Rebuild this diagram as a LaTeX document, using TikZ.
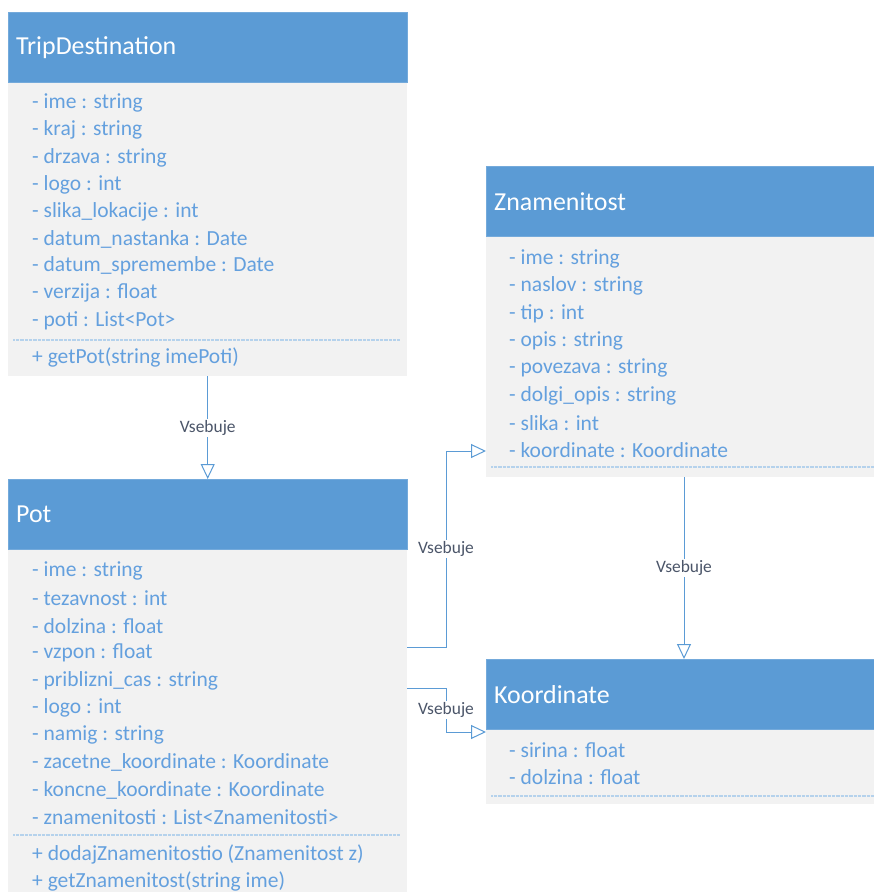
\documentclass[tikz,border=0pt]{standalone}
\usepackage{fontspec}
\setmainfont{Carlito}
\usetikzlibrary{arrows.meta}
\definecolor{umlblue}{RGB}{91,155,213}
\definecolor{umlgrey}{RGB}{242,242,242}
\definecolor{umltext}{RGB}{100,160,222}
\definecolor{umllbl}{RGB}{75,85,105}

\begin{document}
\begin{tikzpicture}[x=1bp,y=-1bp,
    head/.style={fill=umlblue,draw=umlblue!85!white,anchor=north west,inner xsep=8bp,inner ysep=0,
      minimum height=70bp,align=left,text=white,font=\fontsize{26}{26}\selectfont},
    body/.style={fill=umlgrey,anchor=north west,inner sep=0},
    attr/.style={anchor=west,inner sep=0,text=umltext,font=\fontsize{21.6}{21.6}\selectfont},
    sep/.style={draw=umlblue!45,line width=1.5bp,dash pattern=on 0.6bp off 0.7bp},
    vsebuje/.style={draw=umlblue,line width=1bp,-{Triangle[open,length=15bp,width=14bp,fill=white]}},
    lbl/.style={fill=white,inner sep=1.5bp,text=umllbl,font=\fontsize{17.5}{17.5}\selectfont}]
  \useasboundingbox (0,0) rectangle (874,892);

  % TripDestination
  \node[body,minimum width=399bp,minimum height=294bp] (tripbody) at (8,82) {};
  \node[head,text width=383bp] (trip) at (8,12) {TripDestination};
  \foreach \t [count=\i] in {- ime : string,- kraj : string,- drzava : string,- logo : int,
      - slika\_lokacije : int,- datum\_nastanka : Date,- datum\_spremembe : Date,
      - verzija : float,- poti : List<Pot>}
    \node[attr] (trip-\i) at (32,103+27.2*\i-27.2) {\t};
  \draw[sep] (13,340) -- (400,340);
  \node[attr] (trip-m1) at (32,357) {+ getPot(string imePoti)};

  % Pot
  \node[body,minimum width=399bp,minimum height=343bp] (potbody) at (8,549) {};
  \node[head,text width=383bp] (pot) at (8,479) {Pot};
  \foreach \t [count=\i] in {- ime : string,- tezavnost : int,- dolzina : float,- vzpon : float,
      - priblizni\_cas : string,- logo : int,- namig : string,
      - zacetne\_koordinate : Koordinate,- koncne\_koordinate : Koordinate,
      - znamenitosti : List<Znamenitosti>}
    \node[attr] (pot-\i) at (32,571+27.4*\i-27.4) {\t};
  \draw[sep] (13,835) -- (400,835);
  \node[attr] (pot-m1) at (32,854) {+ dodajZnamenitostio (Znamenitost z)};
  \node[attr] (pot-m2) at (32,881) {+ getZnamenitost(string ime)};

  % Znamenitost
  \node[body,minimum width=388bp,minimum height=240bp] (znbody) at (486,237) {};
  \node[head,text width=372bp] (zn) at (486,166) {Znamenitost};
  \foreach \t [count=\i] in {- ime : string,- naslov : string,- tip : int,- opis : string,
      - povezava : string,- dolgi\_opis : string,- slika : int,- koordinate : Koordinate}
    \node[attr] (zn-\i) at (509,259+27.3*\i-27.3) {\t};
  \draw[sep] (491,467) -- (874,467);

  % Koordinate
  \node[body,minimum width=388bp,minimum height=75bp] (kobody) at (486,729) {};
  \node[head,text width=372bp] (ko) at (486,659) {Koordinate};
  \node[attr] (ko-1) at (509,750) {- sirina : float};
  \node[attr] (ko-2) at (509,777) {- dolzina : float};
  \draw[sep] (491,796) -- (874,796);

  % povezave
  \draw[vsebuje] (tripbody.south) -- node[lbl] (l1) {Vsebuje} (pot.north);
  \draw[vsebuje] (potbody.east |- 0,647) -- (446,647) -- node[lbl] (l2) {Vsebuje} (446,451)
    -- (znbody.west |- 0,451);
  \draw[vsebuje] (potbody.east |- 0,688) -- (446,688) -- node[lbl] (l3) {Vsebuje} (446,732)
    -- (kobody.west |- 0,732);
  \draw[vsebuje] (znbody.south -| 684,0) -- node[lbl] (l4) {Vsebuje} (ko.north -| 684,0);
\end{tikzpicture}
\end{document}
